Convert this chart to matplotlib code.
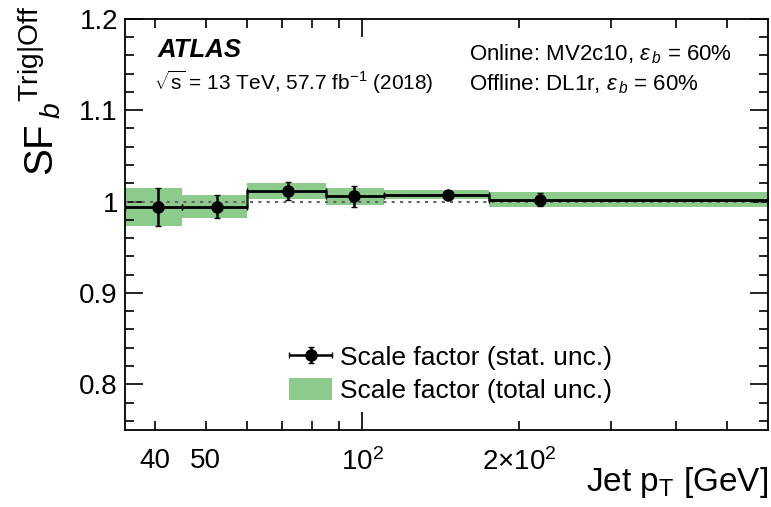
import matplotlib
matplotlib.use('Agg')
import matplotlib.pyplot as plt
import matplotlib.ticker as mticker
from matplotlib.patches import Patch
from matplotlib.legend_handler import HandlerErrorbar
import numpy as np

# pT binning [GeV] and scale factors
bin_edges = [35, 45, 60, 85, 110, 175, 600]
pt_mean = [40.5, 52.5, 72, 96.5, 146, 219]
sf = [0.994, 0.9945, 1.0117, 1.0055, 1.0075, 1.0019]
stat_unc = [0.021, 0.013, 0.010, 0.011, 0.004, 0.007]
total_unc = [0.021, 0.0125, 0.0085, 0.0092, 0.0048, 0.0082]

plt.rcParams['font.family'] = ['Liberation Sans', 'DejaVu Sans']
plt.rcParams['mathtext.fontset'] = 'custom'
plt.rcParams['mathtext.rm'] = 'Liberation Sans'
plt.rcParams['mathtext.it'] = 'Liberation Sans:italic'
plt.rcParams['mathtext.bf'] = 'Liberation Sans:bold'

band_color = '#8ccb8c'

fig = plt.figure(figsize=(7.71, 5.07), dpi=100)
ax = fig.add_axes([0.162, 0.152, 0.834, 0.811])

edges = np.array(bin_edges)
lo = edges[:-1]
hi = edges[1:]
sf_arr = np.array(sf)
tot = np.array(total_unc)
pt = np.array(pt_mean)

# total uncertainty boxes
for l, h, v, e in zip(lo, hi, sf_arr, tot):
    ax.fill_between([l, h], v - e, v + e, color=band_color, lw=0, zorder=1)

# reference line at unity
ax.axhline(1.0, color='#666666', lw=1.5, ls=(0, (1.5, 2.5)), zorder=2)

# central value as a step line over the bins
ax.stairs(sf_arr, edges, color='#1b2a1b', lw=1.8, baseline=None, zorder=3)

# points with statistical uncertainty, horizontal bar spans the bin
stat_points = ax.errorbar(pt, sf_arr, yerr=stat_unc, xerr=[pt - lo, hi - pt],
                          fmt='o', color='black', ms=8, lw=1.8, capsize=2,
                          zorder=4)

ax.set_xscale('log')
ax.set_xlim(35, 600)
ax.set_ylim(0.75, 1.2)

ax.xaxis.set_major_locator(mticker.FixedLocator([100]))
ax.xaxis.set_major_formatter(mticker.FixedFormatter([r'10$^{2}$']))
minor_pos = [40, 50, 60, 70, 80, 90, 200, 300, 400, 500]
minor_lab = ['40', '50', '', '', '', '', r'2$\times$10$^{2}$', '', '', '']
ax.xaxis.set_minor_locator(mticker.FixedLocator(minor_pos))
ax.xaxis.set_minor_formatter(mticker.FixedFormatter(minor_lab))

ax.yaxis.set_major_locator(mticker.MultipleLocator(0.1))
ax.yaxis.set_minor_locator(mticker.MultipleLocator(0.02))
ax.yaxis.set_major_formatter(mticker.FuncFormatter(lambda v, p: '%g' % round(v, 3)))

ax.tick_params(which='both', direction='in', top=True, right=True,
               labelsize=20, width=1.2)
ax.tick_params(which='major', length=13)
ax.tick_params(which='minor', length=6.5)
ax.tick_params(axis='x', which='both', pad=13)
ax.tick_params(axis='y', which='both', pad=5)
for s in ax.spines.values():
    s.set_linewidth(1.3)

ax.set_ylabel(r'SF$\,{}_{b}{}^{\mathrm{Trig|Off}}$', fontsize=29, ha='right')
ax.yaxis.set_label_coords(-0.098, 1.03)
ax.set_xlabel(r'Jet p$_{\mathrm{T}}$ [GeV]', fontsize=24, ha='right')
ax.xaxis.set_label_coords(1.0, -0.085)

ax.text(0.05, 0.925, 'ATLAS', transform=ax.transAxes, fontsize=18.5,
        fontweight='bold', fontstyle='italic', va='center')
ax.text(0.045, 0.845, r'$\sqrt{\mathrm{s}}$ = 13 TeV, 57.7 fb$^{\mathrm{-1}}$ (2018)',
        transform=ax.transAxes, fontsize=15, va='center')
ax.text(0.535, 0.915, r'Online: MV2c10, $\varepsilon_{\,b}$ = 60%',
        transform=ax.transAxes, fontsize=16, va='center')
ax.text(0.535, 0.84, r'Offline: DL1r, $\varepsilon_{\,b}$ = 60%',
        transform=ax.transAxes, fontsize=16, va='center')

handles = [stat_points, Patch(facecolor=band_color, edgecolor='none')]
labels = ['Scale factor (stat. unc.)', 'Scale factor (total unc.)']
ax.legend(handles, labels, loc='lower left', bbox_to_anchor=(0.255, 0.065),
          frameon=False, fontsize=19, handlelength=1.65, handleheight=0.9,
          handletextpad=0.3, labelspacing=0.3, borderpad=0.0,
          borderaxespad=0.0,
          handler_map={type(stat_points): HandlerErrorbar(xerr_size=0.82,
                                                          yerr_size=0.3)})

fig.savefig('out.png', dpi=100)
